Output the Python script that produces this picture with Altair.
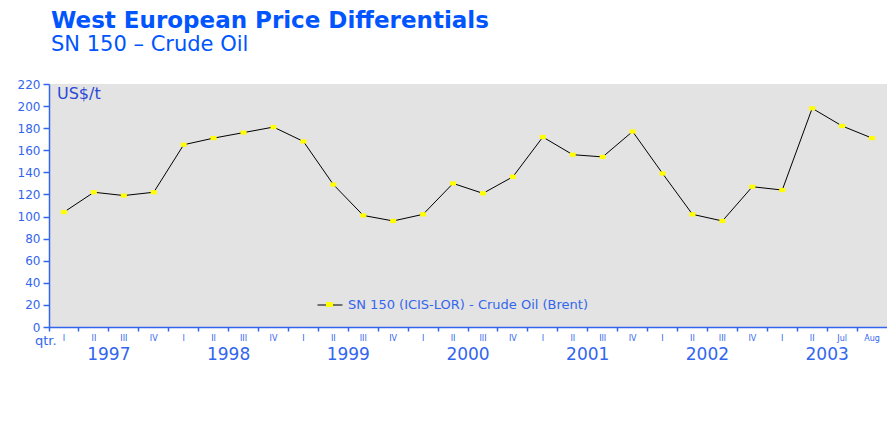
import altair as alt
import pandas as pd

# ---- data ----
years = [1997, 1997, 1997, 1997, 1998, 1998, 1998, 1998, 1999, 1999, 1999, 1999,
         2000, 2000, 2000, 2000, 2001, 2001, 2001, 2001, 2002, 2002, 2002, 2002,
         2003, 2003, 2003, 2003]
periods = ["I", "II", "III", "IV"] * 6 + ["I", "II", "Jul", "Aug"]
values = [104, 122, 119, 122, 165, 171, 176, 181, 168, 129, 101, 96,
          102, 130, 121, 136, 172, 156, 154, 177, 139, 102, 96, 127,
          124, 198, 182, 171]
year_labels = [1997, 1998, 1999, 2000, 2001, 2002, 2003]
year_anchor = ["III", "III", "III", "III", "III", "III", "Jul"]
series_name = "SN 150 (ICIS-LOR) - Crude Oil (Brent)"

keys = [f"{y}-{p}" for y, p in zip(years, periods)]
df = pd.DataFrame({"key": keys, "value": values,
                   "series": series_name, "marker": series_name})
yr = pd.DataFrame({"key": [f"{y}-{a}" for y, a in zip(year_labels, year_anchor)],
                   "year": [str(y) for y in year_labels]})

TOTAL_W, H = 879, 243
BLUE = "#3366ee"
FONT = "DejaVu Sans"

xscale = alt.Scale(type="band", domain=keys, paddingInner=0, paddingOuter=0)
x_axis = alt.Axis(title=None, bandPosition=0,
                  labelExpr="split(datum.value, '-')[1]", labelAngle=0,
                  labelFontSize=8, labelColor=BLUE, labelFont=FONT,
                  domainColor=BLUE, domainWidth=1.5, tickColor=BLUE,
                  tickSize=4, tickWidth=1.5, labelPadding=3, grid=False)
y_axis = alt.Axis(title=None, values=list(range(0, 221, 20)), labelOverlap=False,
                  labelFlush=False, tickCount=12,
                  labelFontSize=12, labelColor=BLUE, labelFont=FONT,
                  domainColor=BLUE, domainWidth=1.5, tickColor=BLUE,
                  tickSize=6, tickWidth=1.5, labelPadding=3, grid=False)
yscale = alt.Scale(domain=[0, 220], nice=False)

X = alt.X("key:N", scale=xscale, axis=x_axis, sort=keys)
Y = alt.Y("value:Q", scale=yscale, axis=y_axis)

base = alt.Chart(df)

line = base.mark_line(color="black", strokeWidth=1).encode(
    x=X, y=Y,
    stroke=alt.Stroke("series:N", scale=alt.Scale(range=["black"]),
                      legend=alt.Legend(title=None, orient="none", legendX=268, legendY=208,
                                        symbolType="M-1,0H1", symbolSize=625,
                                        symbolStrokeWidth=1, padding=0, labelLimit=500,
                                        labelFontSize=13, labelColor=BLUE, labelFont=FONT,
                                        labelOffset=5)),
)

points = base.mark_point(shape="M-1,-0.7H1V0.7H-1Z", filled=True, size=36,
                         opacity=1, strokeWidth=0).encode(
    x=X, y=Y,
    fill=alt.Fill("marker:N", scale=alt.Scale(range=["#ffff00"]),
                  legend=alt.Legend(title=None, orient="none", legendX=277, legendY=217,
                                    symbolType="M-1,-0.7H1V0.7H-1Z", symbolSize=49,
                                    symbolStrokeWidth=0, padding=0,
                                    labelExpr="''", labelFontSize=1)),
)

year_text = alt.Chart(yr).mark_text(fontSize=17, color=BLUE, font=FONT,
                                    baseline="middle").encode(
    x=alt.X("key:N", scale=xscale, sort=keys, bandPosition=0),
    y=alt.value(H + 28),
    text="year:N",
)

qtr_text = alt.Chart(pd.DataFrame({"t": ["qtr."]})).mark_text(
    fontSize=13, color=BLUE, font=FONT, align="left", baseline="middle").encode(
    x=alt.value(-14), y=alt.value(H + 14), text="t:N")

unit_text = alt.Chart(pd.DataFrame({"t": ["US$/t"]})).mark_text(
    fontSize=16, color="#2a48d8", font=FONT, align="left", baseline="middle").encode(
    x=alt.value(8), y=alt.value(10), text="t:N")

chart = alt.layer(line, points, year_text, qtr_text, unit_text).properties(
    width=TOTAL_W, height=H,
    autosize=alt.AutoSizeParams(type="fit-x", contains="padding"),
    title=alt.TitleParams(text="West European Price Differentials",
                          subtitle="SN 150 – Crude Oil",
                          anchor="start", frame="group", dx=2,
                          font=FONT, fontSize=23, fontWeight="bold", color="#0055ff",
                          subtitleFont=FONT, subtitleFontSize=21, subtitleColor="#0055ff",
                          subtitlePadding=1, offset=23),
    padding={"left": 9, "top": 2, "right": 0, "bottom": 0},
).resolve_legend(stroke="independent", fill="independent").configure_view(
    fill="#e3e3e3", strokeWidth=0)

chart.save("out.html", embed_options={"renderer": "svg", "actions": False})
